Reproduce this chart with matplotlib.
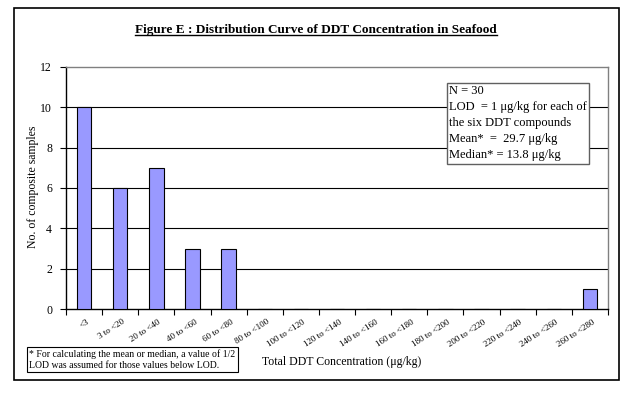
import numpy as np
import matplotlib
matplotlib.use("Agg")
import matplotlib.pyplot as plt
from matplotlib.patches import Rectangle

plt.rcParams['font.family'] = ['Liberation Serif', 'DejaVu Serif']

# data
categories = ['<3', '3 to <20', '20 to <40', '40 to <60', '60 to <80', '80 to <100',
              '100 to <120', '120 to <140', '140 to <160', '160 to <180', '180 to <200',
              '200 to <220', '220 to <240', '240 to <260', '260 to <280']
counts = [10, 6, 7, 3, 3, 0, 0, 0, 0, 0, 0, 0, 0, 0, 1]
y_ticks = [0, 2, 4, 6, 8, 10, 12]

stats_text = ("N = 30\nLOD  = 1 \u03bcg/kg for each of\nthe six DDT compounds\n"
              "Mean*  =  29.7 \u03bcg/kg\nMedian* = 13.8 \u03bcg/kg")
note_text = "* For calculating the mean or median, a value of 1/2\nLOD was assumed for those values below LOD."

W, H = 632, 395
fig = plt.figure(figsize=(W / 100, H / 100), dpi=100)

# outer frame
fig.patches.append(Rectangle((14 / W, 1 - 380 / H), 605 / W, 372 / H, transform=fig.transFigure,
                             fill=False, edgecolor='black', linewidth=1.2))

ax = fig.add_axes([66 / W, 1 - 309 / H, (608 - 66) / W, (309 - 67) / H])
x = np.arange(len(categories))
ax.bar(x, counts, width=0.4, color='#9999ff', edgecolor='black', linewidth=0.8, zorder=3)

ax.set_xlim(-0.5, len(categories) - 0.5)
ax.set_ylim(0, 12)
ax.set_yticks(y_ticks)
ax.set_yticklabels([str(v) for v in y_ticks], fontsize=8.5)
for v in y_ticks[1:-1]:
    ax.axhline(v, color='black', linewidth=0.8, zorder=1)

ax.set_xticks(np.arange(len(categories) + 1) - 0.5)
ax.set_xticklabels([])
ax.tick_params(axis='x', direction='out', length=4, width=0.8)
ax.tick_params(axis='y', direction='out', length=4, width=0.8, pad=6)
for i, lab in enumerate(categories):
    ax.text(i + 0.05, -0.45, lab, rotation=33, rotation_mode='anchor', ha='right', va='top',
            fontsize=6.5, transform=ax.transData)

for s in ['top', 'right']:
    ax.spines[s].set_color('#808080')
for s in ['left', 'bottom']:
    ax.spines[s].set_color('black')
for s in ax.spines.values():
    s.set_linewidth(1.0)

fig.text(33 / W, 1 - 187 / H, 'No. of composite samples', rotation=90, ha='center', va='center',
         fontsize=8.5)
fig.text(342 / W, 1 - 362 / H, 'Total DDT Concentration (\u03bcg/kg)', ha='center', va='center',
         fontsize=8.5)

title = fig.text(316 / W, 1 - 30 / H, 'Figure E : Distribution Curve of DDT Concentration in Seafood',
                 ha='center', va='center', fontsize=9.5, fontweight='bold')
fig.canvas.draw()
bb = title.get_window_extent().transformed(fig.transFigure.inverted())
fig.add_artist(plt.Line2D([bb.x0, bb.x1], [bb.y0 + 0.002, bb.y0 + 0.002], transform=fig.transFigure,
                          color='black', linewidth=1.0))

fig.text(449 / W, 1 - 85 / H, stats_text, ha='left', va='top', fontsize=9, linespacing=1.45,
         bbox=dict(boxstyle='square,pad=0.2', facecolor='white', edgecolor='#606060', linewidth=1.0),
         zorder=5)

fig.text(29 / W, 1 - 349 / H, note_text, ha='left', va='top', fontsize=7, linespacing=1.3,
         bbox=dict(boxstyle='square,pad=0.25', facecolor='white', edgecolor='black', linewidth=0.8))

fig.savefig('out.png', dpi=100)
